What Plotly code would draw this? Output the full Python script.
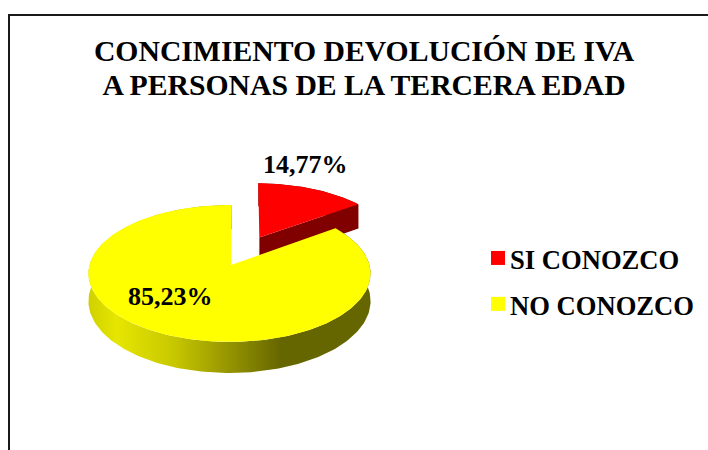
import numpy as np
import plotly.graph_objects as go

# Data
categories = ["SI CONOZCO", "NO CONOZCO"]
shares = [14.77, 85.23]
share_labels = ["14,77%", "85,23%"]
colors = ["#FF0000", "#FFFF00"]
title_lines = ["CONCIMIENTO DEVOLUCIÓN DE IVA", "A PERSONAS DE LA TERCERA EDAD"]

# Projection of the tilted pie (page pixels)
X0, Y0, BX, AY, P, DEPTH = 229.5, 265.0, 140.0, 67.4, 0.124, 27.2
ROT = 1.0
EXPLODE = 0.485


def project(u, v, z=0.0):
    den = 1 + P * v
    return X0 + BX * u / den, Y0 - (AY * v - z) / den


def rim(a0, a1, du=0.0, dv=0.0, z=0.0):
    t = np.radians(np.linspace(a0, a1, 240))
    return project(np.sin(t) + du, np.cos(t) + dv, z)


cuts = np.cumsum([0] + shares) * 3.6 + ROT
mid = np.radians((cuts[0] + cuts[1]) / 2)
du, dv = EXPLODE * np.sin(mid), EXPLODE * np.cos(mid)

fig = go.Figure()


def poly(xs, ys, color, **kw):
    fig.add_trace(go.Scatter(x=list(xs), y=list(ys), mode="lines", fill="toself",
                             fillcolor=color, line=dict(width=0), hoverinfo="skip",
                             showlegend=False, **kw))


# red slice: cut face, then top
ax, ay = project(du, dv)
ax2, ay2 = project(du, dv, DEPTH)
ex, ey = rim(cuts[1], cuts[1], du, dv)
ex2, ey2 = rim(cuts[1], cuts[1], du, dv, DEPTH)
rx, ry = rim(cuts[0], cuts[1], du, dv)
rx2, ry2 = rim(cuts[0], cuts[1], du, dv, DEPTH)
poly(list(rx) + list(rx2[::-1]), list(ry) + list(ry2[::-1]), "#800000")
poly([ax, ex[0], ex2[0], ax2], [ay, ey[0], ey2[0], ay2], "#800000")
poly([ax] + list(rx), [ay] + list(ry), colors[0])

# yellow slice: side wall with gradient, then top
wx, wy = rim(cuts[1], cuts[2])
wx2, wy2 = rim(cuts[1], cuts[2], z=DEPTH)
fig.add_trace(go.Scatter(
    x=list(wx) + list(wx2[::-1]), y=list(wy) + list(wy2[::-1]), mode="lines", fill="toself",
    line=dict(width=0), hoverinfo="skip", showlegend=False,
    fillgradient=dict(type="horizontal", colorscale=[
        [0.0, "#D0D000"], [0.1, "#E6E600"], [0.3, "#C8C800"], [0.5, "#949400"],
        [0.68, "#666600"], [1.0, "#666600"]])))
tx, ty = project(0.0, 0.0)
poly([tx + 1.5] + list(wx), [ty] + list(wy), colors[1])

# legend entries: the span sets glyph size, the font size sets the row height
for name, c in zip(categories, colors):
    fig.add_trace(go.Scatter(x=[None], y=[None], mode="markers",
                             name=f'<span style="font-size:26.6px">{name}</span>',
                             marker=dict(symbol="square", size=14, color=c)))

FONT = "Liberation Serif"
title_text = "<br>".join(f'<span style="font-size:29.7px">{t}</span>' for t in title_lines)
fig.update_layout(
    width=708, height=450, margin=dict(l=0, r=0, t=0, b=0),
    paper_bgcolor="white", plot_bgcolor="white",
    font=dict(family=FONT, color="black"),
    title=dict(text=title_text, x=364 / 708, xanchor="center",
               y=1 - 61 / 450, yanchor="top",
               font=dict(family=FONT, size=26, color="black", weight="bold")),
    xaxis=dict(range=[0, 708], visible=False, fixedrange=True),
    yaxis=dict(range=[450, 0], visible=False, fixedrange=True),
    legend=dict(x=470 / 708, y=1 - 228 / 450, xanchor="left", yanchor="top",
                font=dict(family=FONT, size=33, color="black", weight="bold"),
                bgcolor="rgba(0,0,0,0)", tracegroupgap=0),
    shapes=[dict(type="rect", xref="x", yref="y", x0=9, y0=15, x1=730, y1=470,
                 line=dict(color="#1a1a1a", width=2), layer="below")],
    annotations=[
        dict(x=305, y=164, xref="x", yref="y", text=share_labels[0], showarrow=False,
             font=dict(family=FONT, size=26, color="black", weight="bold")),
        dict(x=170.5, y=296, xref="x", yref="y", text=share_labels[1], showarrow=False,
             font=dict(family=FONT, size=26, color="black", weight="bold")),
    ],
)
fig.write_html(
    "out.html",
    config={"displayModeBar": False},
    post_script=("document.body.style.margin='0';"
                 "document.querySelectorAll('.legendsymbols')"
                 ".forEach(function(g){g.setAttribute('transform','translate(8,2)');});"),
)
